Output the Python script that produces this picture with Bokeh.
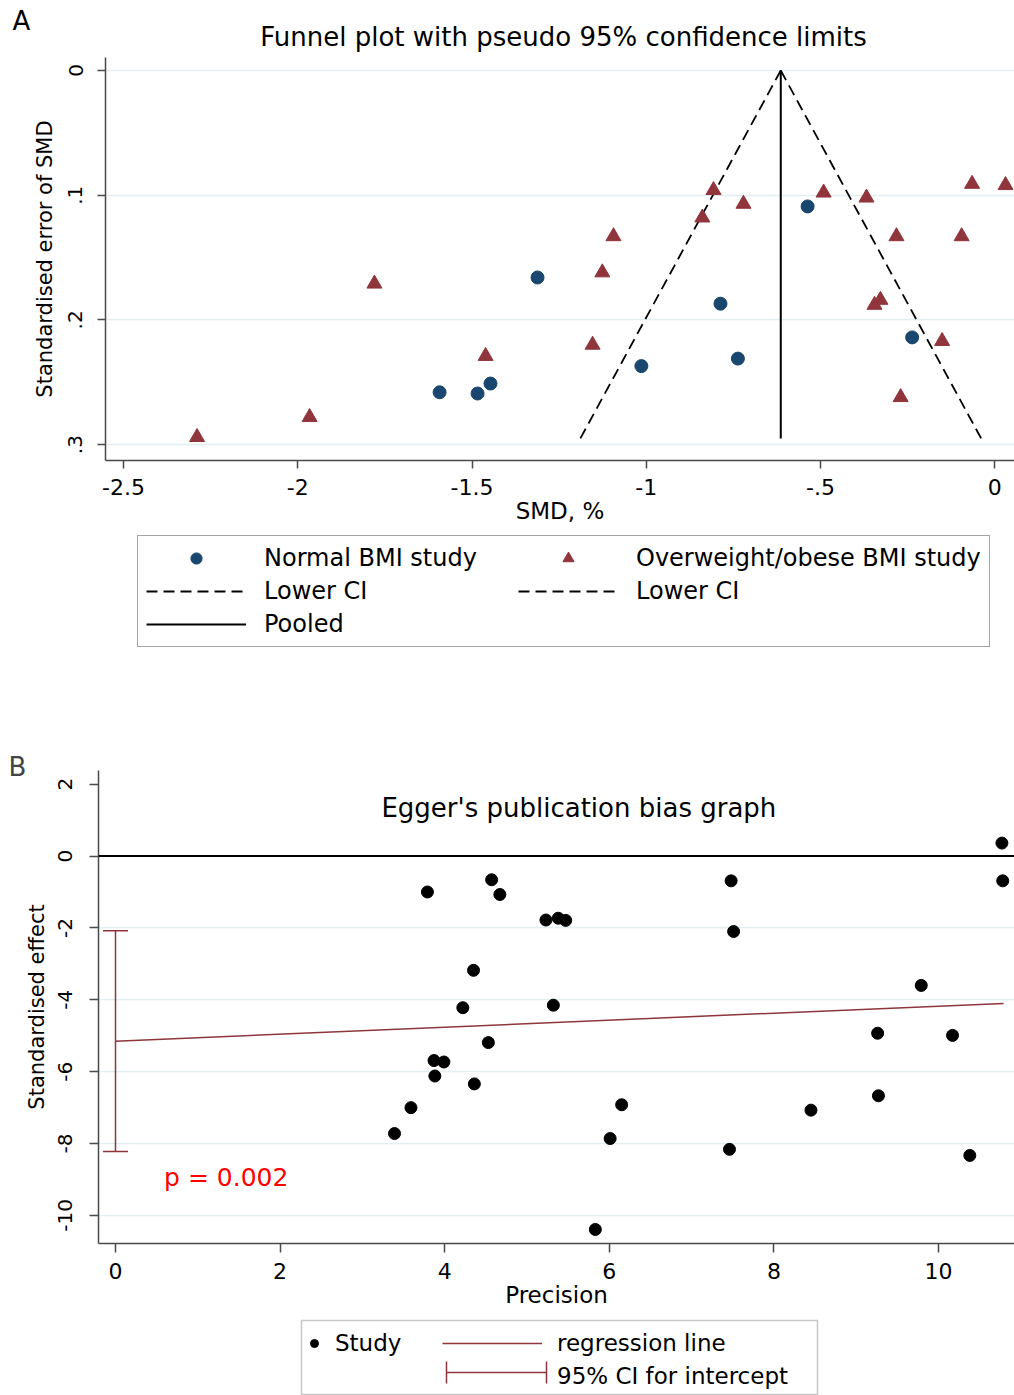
from bokeh.plotting import figure
from bokeh.models import (Range1d, FixedTicker, Legend, LegendItem, Label, Span, Title,
                          Whisker, TeeHead, Arrow, ColumnDataSource, BoxAnnotation)
from bokeh.embed import file_html
from bokeh.resources import INLINE

FONT = "DejaVu Sans"
NAVY = "#1a476f"
MAROON = "#90353b"
AXIS = "#4a4a4a"
GRID = "#e4edf0"
W = 1014

# ---------------- Panel A data: funnel plot ----------------
normal_smd = [-1.312, -1.593, -1.484, -1.447, -1.014, -0.787, -0.737, -0.537, -0.237]
normal_se = [0.166, 0.258, 0.259, 0.251, 0.237, 0.187, 0.231, 0.109, 0.214]
obese_smd = [-2.289, -1.966, -1.780, -1.461, -1.154, -1.126, -1.094, -0.839, -0.807, -0.721,
             -0.491, -0.368, -0.282, -0.328, -0.345, -0.270, -0.151, -0.095, -0.065, 0.031]
obese_se = [0.294, 0.278, 0.171, 0.229, 0.220, 0.162, 0.133, 0.118, 0.096, 0.107,
            0.098, 0.102, 0.133, 0.184, 0.188, 0.262, 0.217, 0.133, 0.091, 0.092]
funnel_se = [0.0, 0.295]
pooled_smd = [-0.614, -0.614]
ci_lower_smd = [-0.614, -1.189]
ci_upper_smd = [-0.614, -0.039]
a_x_ticks = [-2.5, -2.0, -1.5, -1.0, -0.5, 0.0]
a_x_labels = ["-2.5", "-2", "-1.5", "-1", "-.5", "0"]
a_y_ticks = [0.0, 0.1, 0.2, 0.3]
a_y_labels = ["0", ".1", ".2", ".3"]

# ---------------- Panel B data: Egger's graph ----------------
precision = [3.39, 3.59, 3.79, 3.87, 3.99, 3.88, 4.35, 4.22, 4.36, 4.53, 4.57, 4.67,
             5.23, 5.38, 5.47, 5.32, 5.83, 6.01, 6.15, 7.48, 7.51, 7.46, 8.45, 9.26,
             9.27, 9.79, 10.17, 10.38, 10.77, 10.78]
std_effect = [-7.72, -7.00, -1.00, -5.69, -5.73, -6.12, -3.18, -4.22, -6.34, -5.19, -0.66, -1.07,
              -1.78, -1.73, -1.79, -4.15, -10.39, -7.86, -6.92, -0.69, -2.10, -8.16, -7.07, -4.93,
              -6.67, -3.60, -4.99, -8.33, 0.36, -0.69]
reg_precision = [0.0, 10.79]
reg_effect = [-5.15, -4.10]
intercept_base = [0.0]
intercept_ci_lower = [-8.22]
intercept_ci_upper = [-2.08]
b_x_ticks = [0, 2, 4, 6, 8, 10]
b_x_labels = ["0", "2", "4", "6", "8", "10"]
b_y_ticks = [2, 0, -2, -4, -6, -8, -10]
b_y_labels = ["2", "0", "-2", "-4", "-6", "-8", "-10"]
b_grid_ticks = [-10, -8, -6, -4, -2]
p_value_text = "p = 0.002"


def style_axis(ax, ticks, labels, fs, tick_out, standoff, title, title_fs, title_standoff,
               vertical=False):
    ax.ticker = FixedTicker(ticks=ticks)
    ax.major_label_overrides = {t: l for t, l in zip(ticks, labels)}
    ax.minor_tick_line_color = None
    ax.major_tick_in = 0
    ax.major_tick_out = tick_out
    ax.axis_line_color = AXIS
    ax.axis_line_width = 1.5
    ax.major_tick_line_color = AXIS
    ax.major_tick_line_width = 1.5
    ax.major_label_text_font = FONT
    ax.major_label_text_font_size = fs
    ax.major_label_text_color = "black"
    ax.major_label_standoff = standoff
    ax.axis_label = title
    ax.axis_label_text_font = FONT
    ax.axis_label_text_font_size = title_fs
    ax.axis_label_text_font_style = "normal"
    ax.axis_label_text_color = "black"
    ax.axis_label_standoff = title_standoff
    if vertical:
        ax.major_label_orientation = "vertical"


def strip_figure(height):
    f = figure(width=W, height=height, x_range=Range1d(0, W), y_range=Range1d(0, height),
               output_backend="svg", toolbar_location=None, min_border=0,
               x_axis_location=None, y_axis_location=None, title=None)
    f.outline_line_color = None
    f.grid.visible = False
    return f


# ---- header for panel A ----
ha = strip_figure(52)
ha.add_layout(Label(x=21, y=32, text="A", text_align="center", text_baseline="middle",
                    text_font=FONT, text_font_size="26px", text_color="black"))
ha.add_layout(Label(x=563, y=16, text="Funnel plot with pseudo 95% confidence limits",
                    text_align="center", text_baseline="middle",
                    text_font=FONT, text_font_size="26px", text_color="black"))

# ================= Panel A =================
pa = figure(width=W, height=480, x_range=Range1d(-2.5517, 0.0567), y_range=Range1d(0.3127, -0.0104),
            output_backend="svg", toolbar_location=None, title=None,
            min_border_left=105, min_border_right=0, min_border_top=5, min_border_bottom=72)
pa.outline_line_color = None
pa.xgrid.visible = False
pa.ygrid.ticker = FixedTicker(ticks=a_y_ticks)
pa.ygrid.grid_line_color = GRID
pa.ygrid.grid_line_width = 1.5

style_axis(pa.xaxis[0], a_x_ticks, a_x_labels, "22px", 8, 10, "SMD, %", "23px", 0)
style_axis(pa.yaxis[0], a_y_ticks, a_y_labels, "20px", 8, 15, "Standardised error of SMD", "21px", 9,
           vertical=True)

src_norm = ColumnDataSource(dict(smd=normal_smd, se=normal_se))
src_obese = ColumnDataSource(dict(smd=obese_smd, se=obese_se))
line_a = dict(line_color="black", line_width=1.8, line_dash="11 6")
pool_a = dict(line_color="black", line_width=2)
norm_a = dict(marker="circle", size=13, fill_color=NAVY, line_color=NAVY)
obese_a = dict(marker="triangle", size=15, fill_color=MAROON, line_color=MAROON)

pa.line(ci_lower_smd, funnel_se, **line_a)
pa.line(ci_upper_smd, funnel_se, **line_a)
pa.line(pooled_smd, funnel_se, **pool_a)
pa.scatter("smd", "se", source=src_norm, **norm_a)
pa.scatter("smd", "se", source=src_obese, **obese_a)

# ---- legend for panel A (own strip) ----
la = strip_figure(213)
k_lo = la.line(ci_lower_smd, funnel_se, visible=False, **line_a)
k_hi = la.line(ci_upper_smd, funnel_se, visible=False, **line_a)
k_pool = la.line(pooled_smd, funnel_se, visible=False, **pool_a)
k_norm = la.scatter("smd", "se", source=src_norm, visible=False, **norm_a)
k_obese = la.scatter("smd", "se", source=src_obese, visible=False, **obese_a)
leg_a = Legend(items=[
    LegendItem(label="Normal BMI study", renderers=[k_norm]),
    LegendItem(label="Overweight/obese BMI study", renderers=[k_obese]),
    LegendItem(label="Lower CI", renderers=[k_lo]),
    LegendItem(label="Lower CI", renderers=[k_hi]),
    LegendItem(label="Pooled", renderers=[k_pool]),
], orientation="horizontal", ncols=2, location=(137, 98),
    glyph_width=100, glyph_height=28, label_height=28, label_width=249, label_standoff=18,
    spacing=5, padding=8, margin=0, inactive_fill_alpha=0,
    border_line_color=AXIS, border_line_width=1.5, background_fill_color="white",
    label_text_font=FONT, label_text_font_size="24px", label_text_color="black")
la.add_layout(leg_a)

# ================= Panel B =================
pb = figure(width=W, height=570, x_range=Range1d(-0.2066, 10.923), y_range=Range1d(-10.78, 2.38),
            output_backend="svg", toolbar_location=None, title=None,
            min_border_left=98, min_border_right=0, min_border_top=25, min_border_bottom=72)
pb.add_layout(Title(text="B", align="left", offset=-90, standoff=-22,
                    text_font=FONT, text_font_size="26px", text_font_style="normal"), "above")
pb.outline_line_color = None
pb.xgrid.visible = False
pb.ygrid.ticker = FixedTicker(ticks=b_grid_ticks)
pb.ygrid.grid_line_color = GRID
pb.ygrid.grid_line_width = 1.5

style_axis(pb.xaxis[0], b_x_ticks, b_x_labels, "22px", 9, 10, "Precision", "23px", 0)
style_axis(pb.yaxis[0], b_y_ticks, b_y_labels, "20px", 9, 17, "Standardised effect", "21px", 7,
           vertical=True)

pb.add_layout(Span(location=0, dimension="width", line_color="black", line_width=2))
reg_style = dict(line_color=MAROON, line_width=1.5)
dot_style = dict(marker="circle", size=12, fill_color="black", line_color="black")
pb.line(reg_precision, reg_effect, **reg_style)
src_ci = ColumnDataSource(dict(base=intercept_base, lower=intercept_ci_lower, upper=intercept_ci_upper))
pb.add_layout(Whisker(source=src_ci, base="base", lower="lower", upper="upper", dimension="height",
                      line_color=MAROON, line_width=1.5,
                      upper_head=TeeHead(size=25, line_color=MAROON, line_width=1.5),
                      lower_head=TeeHead(size=25, line_color=MAROON, line_width=1.5)))
pb.scatter(precision, std_effect, **dot_style)

pb.add_layout(Label(x=5.63, y=1.35, text="Egger's publication bias graph", text_align="center",
                    text_baseline="middle", text_font=FONT, text_font_size="26px", text_color="black"))
pb.add_layout(Label(x=0.59, y=-8.94, text=p_value_text, text_align="left", text_baseline="middle",
                    text_font=FONT, text_font_size="25px", text_color="#ff0000"))

# ---- legend for panel B (own strip) ----
lb = strip_figure(80)
k_study = lb.scatter(precision, std_effect, visible=False, **dot_style)
k_reg = lb.line(reg_precision, reg_effect, visible=False, **reg_style)
k_ci = lb.line(reg_precision, reg_effect, visible=False, line_color=MAROON, line_alpha=0)

lb.add_layout(BoxAnnotation(left=301, right=817, bottom=1, top=75, fill_alpha=0,
                            line_color=AXIS, line_width=1.5))
leg_b1 = Legend(items=[LegendItem(label="Study", renderers=[k_study])], location=(304, 38),
                glyph_width=20, glyph_height=28, label_height=28, label_standoff=11, padding=4,
                margin=0, inactive_fill_alpha=0, border_line_color=None, background_fill_alpha=0,
                label_text_font=FONT, label_text_font_size="23px", label_text_color="black")
leg_b2 = Legend(items=[LegendItem(label="regression line", renderers=[k_reg]),
                       LegendItem(label="95% CI for intercept", renderers=[k_ci])],
                location=(442, 5), orientation="vertical",
                glyph_width=100, glyph_height=28, label_height=28, label_standoff=15, padding=4,
                spacing=5, margin=0, inactive_fill_alpha=0, border_line_color=None,
                background_fill_alpha=0,
                label_text_font=FONT, label_text_font_size="23px", label_text_color="black")
lb.add_layout(leg_b1)
lb.add_layout(leg_b2)
lb.add_layout(Arrow(x_start=446, y_start=23, x_end=546, y_end=23, line_color=MAROON, line_width=1.5,
                    start=TeeHead(size=22, line_color=MAROON, line_width=1.5),
                    end=TeeHead(size=22, line_color=MAROON, line_width=1.5)))

open("out.html", "w").write(file_html([ha, pa, la, pb, lb], INLINE, title="Funnel and Egger plots"))
